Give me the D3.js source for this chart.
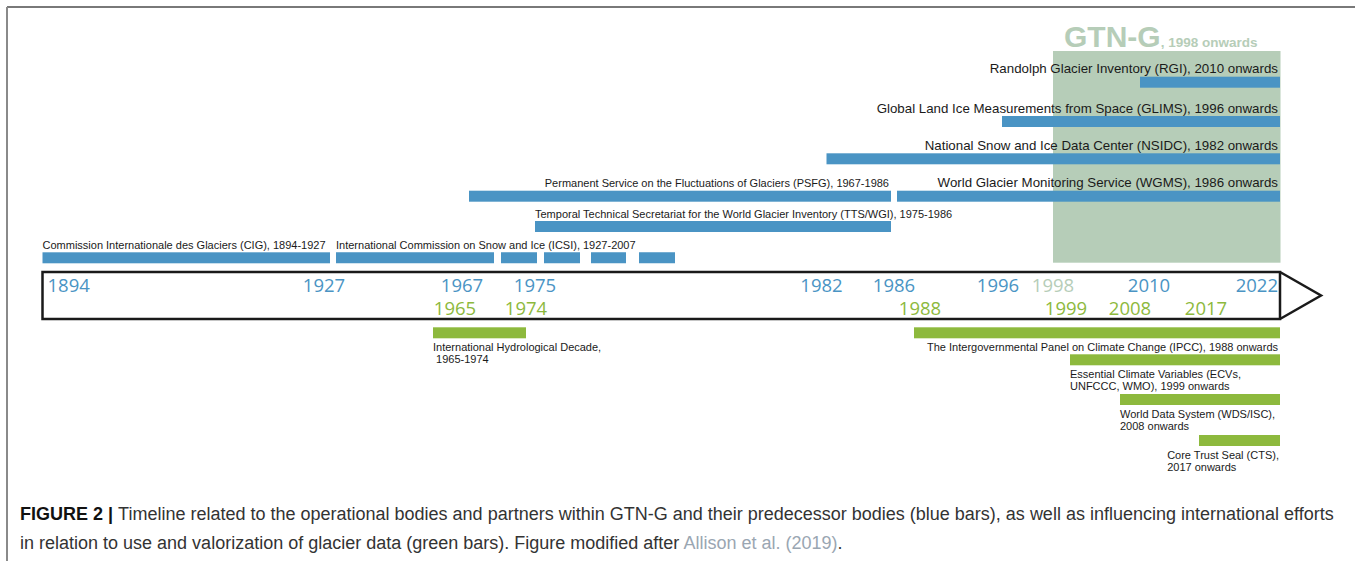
<!DOCTYPE html>
<html>
<head>
<meta charset="utf-8">
<script src="https://cdn.jsdelivr.net/npm/d3@7"></script>
<style>
body { margin: 0; background: #fff; }
svg { display: block; font-family: "Liberation Sans", Arial, sans-serif; }
</style>
</head>
<body>
<script>
var width = 1355, height = 561;

// operational bodies and predecessors (blue bars), top row first
var bodyNames = [
    "Randolph Glacier Inventory (RGI), 2010 onwards",
    "Global Land Ice Measurements from Space (GLIMS), 1996 onwards",
    "National Snow and Ice Data Center (NSIDC), 1982 onwards",
    "World Glacier Monitoring Service (WGMS), 1986 onwards",
    "Permanent Service on the Fluctuations of Glaciers (PSFG), 1967-1986",
    "Temporal Technical Secretariat for the World Glacier Inventory (TTS/WGI), 1975-1986",
    "Commission Internationale des Glaciers (CIG), 1894-1927",
    "International Commission on Snow and Ice (ICSI), 1927-2007"
];
var bodyStart = [2010, 1996, 1982, 1986, 1967, 1975, 1894, 1927];
var bodyEnd = [null, null, null, null, 1986, 1986, 1927, 2007];
var bodyRow = [0, 1, 2, 3, 3, 4, 5, 5];

// international efforts (green bars)
var effortNames = [
    ["International Hydrological Decade,", " 1965-1974"],
    ["The Intergovernmental Panel on Climate Change (IPCC), 1988 onwards"],
    ["Essential Climate Variables (ECVs,", "UNFCCC, WMO), 1999 onwards"],
    ["World Data System (WDS/ISC),", "2008 onwards"],
    ["Core Trust Seal (CTS),", "2017 onwards"]
];
var effortStart = [1965, 1988, 1999, 2008, 2017];
var effortEnd = [1974, null, null, null, null];
var effortRow = [0, 0, 1, 2, 3];

var gtnStart = 1998;
var lastYear = 2022;

// years printed inside the arrow
var blueYears = [1894, 1927, 1967, 1975, 1982, 1986, 1996, 2010, 2022];
var greenYears = [1965, 1974, 1988, 1999, 2008, 2017];

var captionLine1 = "Timeline related to the operational bodies and partners within GTN-G and their predecessor bodies (blue bars), as well as influencing international efforts";
var captionLine2 = "in relation to use and valorization of glacier data (green bars). Figure modified after ";
var captionRef = "Allison et al. (2019)";

// ---- layout / style ----
var blue = "#4a94c4", green = "#8db93d", gtnColor = "#b6cdb8";

// the timeline is schematic, not to scale: piecewise year -> px
var stopYears = [1894, 1927, 1965, 1967, 1974, 1975, 1982, 1986, 1988, 1996, 1998, 1999, 2008, 2010, 2017, 2022];
var stopX = [42.5, 336, 433, 469, 526, 535, 826.5, 897, 914, 1002, 1053, 1070, 1120, 1140, 1199, 1280];
var x = d3.scaleLinear().domain(stopYears).range(stopX);

var bodyY = d3.scaleOrdinal().domain([0, 1, 2, 3, 4, 5]).range([76.7, 116, 153.3, 190.7, 221, 252.3]);
var effortY = d3.scaleOrdinal().domain([0, 1, 2, 3]).range([327.3, 354.3, 394, 435]);
var bodyAlign = ["end", "end", "end", "end", "end", "start", "start", "start"];
var barH = 11;
var boxTop = 272, boxBottom = 319, arrowLen = 41;
// small nudges so the year numbers do not collide
var tickNudge = {1927: -12, 1967: -7, 1982: -5, 1986: -3, 1996: -4, 2010: 9, 1965: 22, 1988: 6, 1999: -4, 2008: 10, 2017: 7};

var svg = d3.select("body").append("svg")
    .attr("width", width)
    .attr("height", height);

// page frame
svg.append("line").attr("x1", 7).attr("x2", width).attr("y1", 7).attr("y2", 7)
    .attr("stroke", "#4d4d4d").attr("stroke-width", 1.5);
svg.append("line").attr("x1", 7).attr("x2", 7).attr("y1", 7).attr("y2", height)
    .attr("stroke", "#8a8a8a").attr("stroke-width", 2);

// GTN-G block
svg.append("rect")
    .attr("x", x(gtnStart))
    .attr("y", 51)
    .attr("width", x(lastYear) - x(gtnStart) + 0.5)
    .attr("height", 262.7 - 51)
    .attr("fill", gtnColor);
var gtnText = svg.append("text")
    .attr("x", 1064).attr("y", 46.7)
    .attr("fill", gtnColor)
    .attr("font-weight", "bold");
gtnText.append("tspan").attr("font-size", "30px").text("GTN-G");
gtnText.append("tspan").attr("font-size", "13.5px").text(", " + gtnStart + " onwards");

// blue bars
var bodies = bodyNames.map(function(n, i) {
    return {name: n, start: bodyStart[i], end: bodyEnd[i], row: bodyRow[i], align: bodyAlign[i]};
});
function barEnd(d, starts) {
    if (d.end == null) return x(lastYear);
    // leave a small gap where the successor starts
    if (starts.indexOf(d.end) >= 0) return x(d.end) - 6;
    return x(d.end);
}

svg.append("g")
    .selectAll("rect")
    .data(bodies.filter(function(d) { return d.end != 2007; }))
    .enter().append("rect")
    .attr("x", function(d) { return x(d.start); })
    .attr("y", function(d) { return bodyY(d.row); })
    .attr("width", function(d) { return barEnd(d, bodyStart) - x(d.start); })
    .attr("height", barH)
    .attr("fill", blue);

// ICSI fades out in pieces
svg.append("g")
    .selectAll("line")
    .data(bodies.filter(function(d) { return d.end == 2007; }))
    .enter().append("line")
    .attr("x1", function(d) { return x(d.start); })
    .attr("x2", function(d) { return x(d.end); })
    .attr("y1", function(d) { return bodyY(d.row) + barH / 2; })
    .attr("y2", function(d) { return bodyY(d.row) + barH / 2; })
    .attr("stroke", blue)
    .attr("stroke-width", barH)
    .attr("stroke-dasharray", "158 7 36 7 36 11 35 13 36 2000");

svg.append("g")
    .selectAll("text")
    .data(bodies)
    .enter().append("text")
    .attr("x", function(d) {
        return d.align == "end" ? barEnd(d, bodyStart) - 2 : x(d.start);
    })
    .attr("y", function(d) { return bodyY(d.row) - 3.3; })
    .attr("text-anchor", function(d) { return d.align; })
    .attr("font-size", function(d) { return d.row < 4 && d.end == null ? "13.3px" : "11px"; })
    .attr("fill", "#1a1a1a")
    .text(function(d) { return d.name; });

// timeline arrow
var x0 = x(stopYears[0]), x1 = x(lastYear);
svg.append("path")
    .attr("d", "M" + x0 + "," + boxTop + "H" + x1 + "V" + boxBottom + "H" + x0 + "Z" +
        "M" + x1 + "," + boxTop + "L" + (x1 + arrowLen) + "," + (boxTop + boxBottom) / 2 + "L" + x1 + "," + boxBottom)
    .attr("fill", "none")
    .attr("stroke", "#1a1a1a")
    .attr("stroke-width", 2.5)
    .attr("stroke-linejoin", "miter");

var ticks = blueYears.map(function(y) { return {year: y, row: 0, color: blue}; })
    .concat([{year: gtnStart, row: 0, color: gtnColor}])
    .concat(greenYears.map(function(y) { return {year: y, row: 1, color: green}; }));

svg.append("g")
    .selectAll("text")
    .data(ticks)
    .enter().append("text")
    .attr("x", function(d) { return x(d.year) + (tickNudge[d.year] || 0); })
    .attr("y", function(d) { return d.row == 0 ? 292.3 : 315; })
    .attr("text-anchor", "middle")
    .attr("font-family", "'Open Sans', sans-serif")
    .attr("font-size", "18.5px")
    .attr("fill", function(d) { return d.color; })
    .text(function(d) { return d.year; })
    .each(function(d) {
        // keep the numbers inside the box
        var w = this.getComputedTextLength();
        var cx = +d3.select(this).attr("x");
        cx = Math.max(x0 + w / 2 + 5, Math.min(x1 - w / 2 - 2, cx));
        d3.select(this).attr("x", cx);
    });

// green bars
var efforts = effortNames.map(function(n, i) {
    return {lines: n, start: effortStart[i], end: effortEnd[i], row: effortRow[i]};
});

svg.append("g")
    .selectAll("rect")
    .data(efforts)
    .enter().append("rect")
    .attr("x", function(d) { return x(d.start); })
    .attr("y", function(d) { return effortY(d.row); })
    .attr("width", function(d) { return barEnd(d, effortStart) - x(d.start); })
    .attr("height", barH)
    .attr("fill", green);

var effortText = svg.append("g")
    .selectAll("text")
    .data(efforts)
    .enter().append("text")
    .attr("y", function(d) { return effortY(d.row) + barH + 12.5; })
    .attr("font-size", "11px")
    .attr("fill", "#1a1a1a");
effortText.selectAll("tspan")
    .data(function(d) { return d.lines; })
    .enter().append("tspan")
    .attr("dy", function(d, i) { return i == 0 ? 0 : 12.5; })
    .attr("xml:space", "preserve")
    .text(function(d) { return d; });
effortText.each(function(d) {
    // one-liners hang from the right end, blocks sit under the bar start
    var t = d3.select(this);
    var w = 0;
    t.selectAll("tspan").each(function() { w = Math.max(w, this.getComputedTextLength()); });
    var tx;
    if (d.end == null && d.lines.length == 1) tx = x1 - 2 - w;
    else if (d.end == null) tx = Math.min(x(d.start), x1 - 1 - w);
    else tx = x(d.start);
    t.selectAll("tspan").attr("x", tx);
});

// caption
var cap = svg.append("text")
    .attr("x", 20).attr("y", 520)
    .attr("font-size", "18px")
    .attr("fill", "#333");
cap.append("tspan").attr("font-weight", "bold").attr("fill", "#111").text("FIGURE 2 | ");
cap.append("tspan").text(captionLine1);
var cap2 = svg.append("text")
    .attr("x", 20).attr("y", 549)
    .attr("font-size", "18px")
    .attr("fill", "#333");
cap2.append("tspan").text(captionLine2);
cap2.append("tspan").attr("fill", "#9aa6b2").text(captionRef);
cap2.append("tspan").text(".");
</script>
</body>
</html>
